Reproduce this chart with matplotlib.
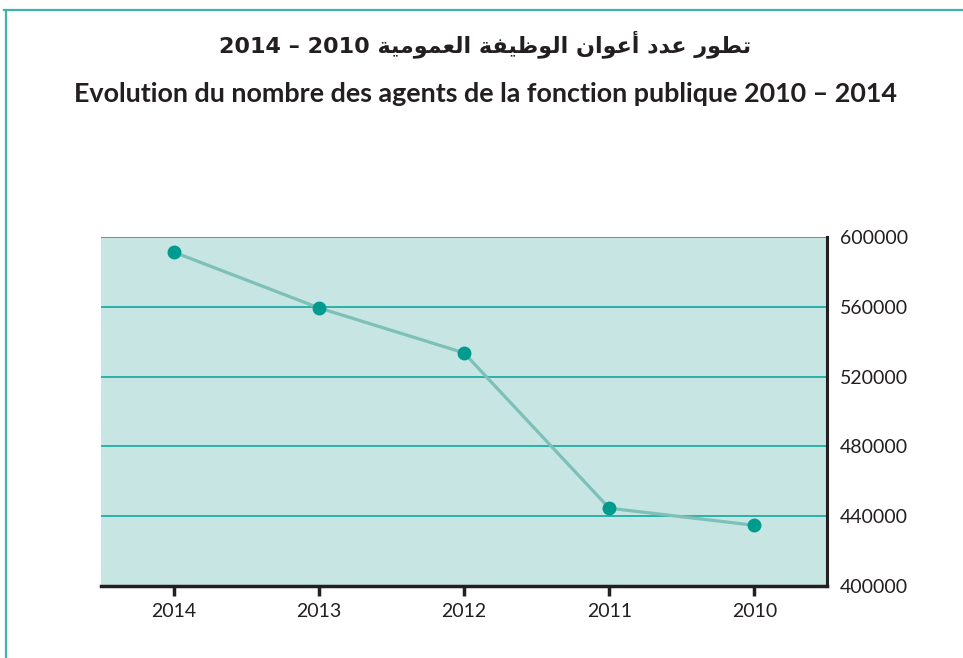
import matplotlib.pyplot as plt
from matplotlib.lines import Line2D

years = ["2014", "2013", "2012", "2011", "2010"]
agents = [591400, 559400, 533600, 444600, 434800]
y_ticks = [400000, 440000, 480000, 520000, 560000, 600000]

title_ar = "تطور عدد أعوان الوظيفة العمومية"
title_years = "2014 – 2010"
title_fr = "Evolution du nombre des agents de la fonction publique 2010 – 2014"

# presentation forms: (isolated, final, initial, medial) ; 2 entries = right-joining only
FORMS = {
    "ت": (0xFE95, 0xFE96, 0xFE97, 0xFE98),
    "ط": (0xFEC1, 0xFEC2, 0xFEC3, 0xFEC4),
    "ظ": (0xFEC5, 0xFEC6, 0xFEC7, 0xFEC8),
    "ع": (0xFEC9, 0xFECA, 0xFECB, 0xFECC),
    "ن": (0xFEE5, 0xFEE6, 0xFEE7, 0xFEE8),
    "ل": (0xFEDD, 0xFEDE, 0xFEDF, 0xFEE0),
    "ي": (0xFEF1, 0xFEF2, 0xFEF3, 0xFEF4),
    "ف": (0xFED1, 0xFED2, 0xFED3, 0xFED4),
    "م": (0xFEE1, 0xFEE2, 0xFEE3, 0xFEE4),
    "و": (0xFEED, 0xFEEE),
    "ر": (0xFEAD, 0xFEAE),
    "د": (0xFEA9, 0xFEAA),
    "أ": (0xFE83, 0xFE84),
    "ا": (0xFE8D, 0xFE8E),
    "ة": (0xFE93, 0xFE94),
}


def shape_arabic(text):
    out = []
    for i, ch in enumerate(text):
        if ch not in FORMS:
            out.append(ch)
            continue
        prev = text[i - 1] if i > 0 else ""
        nxt = text[i + 1] if i + 1 < len(text) else ""
        join_prev = prev in FORMS and len(FORMS[prev]) == 4
        join_next = len(FORMS[ch]) == 4 and nxt in FORMS
        f = FORMS[ch]
        if join_prev and join_next:
            out.append(chr(f[3]))
        elif join_prev:
            out.append(chr(f[1]))
        elif join_next:
            out.append(chr(f[2]))
        else:
            out.append(chr(f[0]))
    return "".join(out)[::-1]


plt.rcParams["font.family"] = ["Lato", "DejaVu Sans"]

fig = plt.figure(figsize=(9.63, 6.58), dpi=100)
ax = fig.add_axes([0.1049, 0.1094, 0.7539, 0.5304])

grid_c = "#00a398"
ax.set_facecolor("#c7e5e3")
x = list(range(len(years)))
ax.plot(x, agents, color="#7cc0b7", lw=2.3, zorder=3)
ax.plot(x, agents, "o", color="#009b8f", ms=9, zorder=4)

ax.set_xlim(-0.5, len(years) - 0.5)
ax.set_ylim(y_ticks[0], y_ticks[-1])
ax.set_xticks(x)
ax.set_xticklabels(years, fontsize=14, color="#231f20")
ax.set_yticks(y_ticks)
ax.set_yticklabels([str(v) for v in y_ticks], fontsize=14, color="#231f20")
ax.yaxis.tick_right()
ax.tick_params(axis="y", length=0, pad=9)
ax.tick_params(axis="x", length=7, width=2.5, color="#231f20", pad=5)

for v in y_ticks[1:]:
    ax.axhline(v, color=grid_c, lw=1.1, zorder=2)

for s in ["left", "top"]:
    ax.spines[s].set_visible(False)
ax.spines["bottom"].set_linewidth(2.5)
ax.spines["bottom"].set_color("#231f20")
ax.spines["right"].set_linewidth(2.2)
ax.spines["right"].set_color("#231f20")

fig.text(485 / 963, 1 - 44 / 658, title_years + " " + shape_arabic(title_ar),
         ha="center", va="center", fontsize=16, fontweight="bold",
         family=["DejaVu Sans"], color="#231f20")
fig.text(485 / 963, 1 - 94 / 658, title_fr, ha="center", va="center",
         fontsize=19.4, fontweight="bold", color="#231f20")

# teal frame (open on the right and bottom edges of the picture)
frame_c = "#3db5ab"
fig.add_artist(Line2D([4 / 963, 1], [1 - 10 / 658] * 2, color=frame_c, lw=1.6))
fig.add_artist(Line2D([6 / 963] * 2, [0, 1 - 10 / 658], color=frame_c, lw=1.6))

fig.savefig("out.png", dpi=100)
